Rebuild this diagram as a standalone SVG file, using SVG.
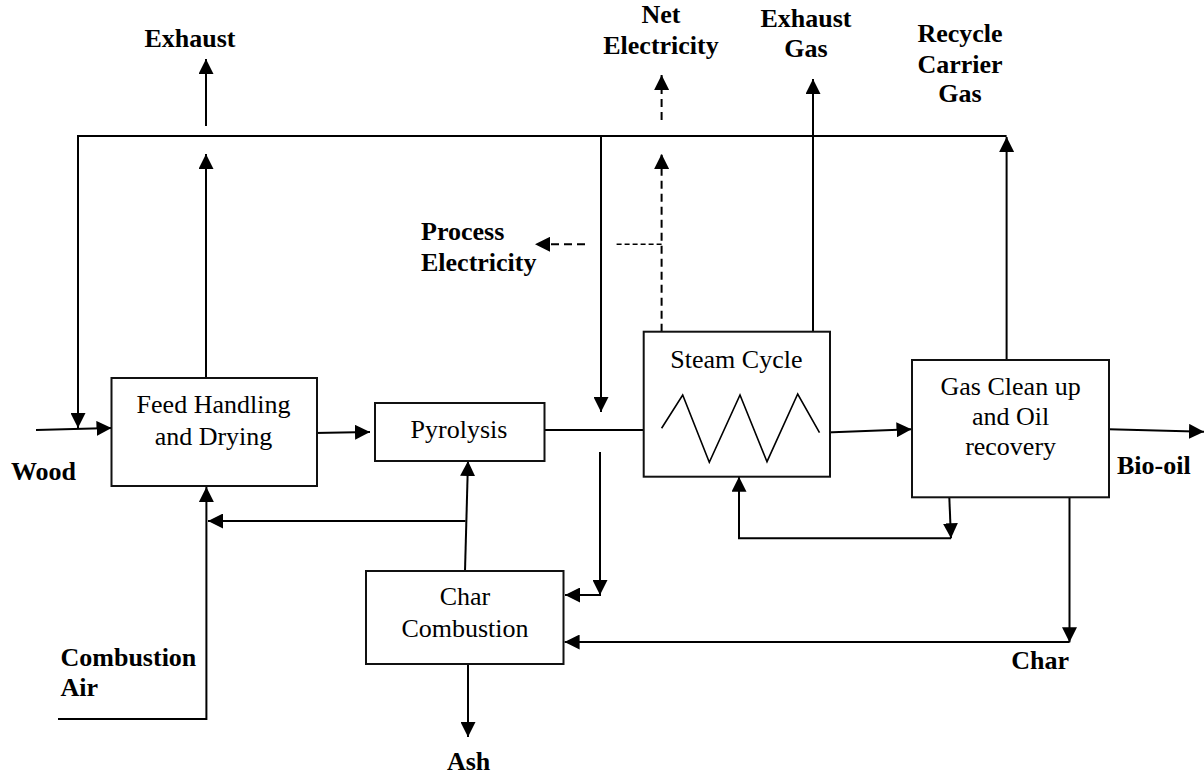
<svg xmlns="http://www.w3.org/2000/svg" width="1204" height="776" viewBox="0 0 1204 776">
<style>
.box{fill:#fff;stroke:#111;stroke-width:2}
.ln{fill:none;stroke:#000;stroke-width:2}
.dash{fill:none;stroke:#000;stroke-width:2;stroke-dasharray:8 5}
.dash2{fill:none;stroke:#000;stroke-width:1.5;stroke-dasharray:5 3}
.lbl{font-size:26px;font-weight:bold;fill:#000}
.nt{font-size:26px;fill:#000;text-anchor:middle}
.zz{fill:none;stroke:#000;stroke-width:1.6;stroke-linejoin:miter}
</style>
<defs>
<marker id="ah" viewBox="0 0 15 15" markerWidth="15" markerHeight="15" refX="15" refY="7.5" orient="auto" markerUnits="userSpaceOnUse">
<path d="M0,0 L15,7.5 L0,15 z" fill="#000"/>
</marker>
</defs>
<rect width="1204" height="776" fill="#fff"/>

<g id="connectors">
<path class="ln" d="M1006.6,360 V137" marker-end="url(#ah)"/>
<path class="ln" d="M1006.6,136 H78 V428" marker-end="url(#ah)"/>
<path class="ln" d="M36,430 L111.5,428" marker-end="url(#ah)"/>
<path class="ln" d="M206,378 V154" marker-end="url(#ah)"/>
<path class="ln" d="M206,126 V59" marker-end="url(#ah)"/>
<path class="ln" d="M601,136 V412" marker-end="url(#ah)"/>
<path class="ln" d="M314,433 L370,432" marker-end="url(#ah)"/>
<path class="ln" d="M544.5,430 H661.6" marker-end="url(#ah)"/>
<path class="ln" d="M600,452 V595" marker-end="url(#ah)"/>
<path class="ln" d="M601,595 H565" marker-end="url(#ah)"/>
<path class="ln" d="M465,571 L468,461" marker-end="url(#ah)"/>
<path class="ln" d="M465.5,521 H208" marker-end="url(#ah)"/>
<path class="ln" d="M58,719 H206.4 V487" marker-end="url(#ah)"/>
<path class="ln" d="M468,664 V737" marker-end="url(#ah)"/>
<path class="ln" d="M819.5,432.7 L911.5,429.3" marker-end="url(#ah)"/>
<path class="ln" d="M1109,429.3 L1204,431.7" marker-end="url(#ah)"/>
<path class="ln" d="M813,331.7 V79" marker-end="url(#ah)"/>
<path class="dash" d="M661.6,331.7 V154" marker-end="url(#ah)"/>
<path class="dash" d="M661.6,120 V75" marker-end="url(#ah)"/>
<path class="dash2" d="M661.6,244.3 H614"/>
<path class="dash" d="M585,244.3 H535" marker-end="url(#ah)"/>
<path class="ln" d="M949.3,497.3 L951,538.3" marker-end="url(#ah)"/>
<path class="ln" d="M951,538.3 H739 V476.7" marker-end="url(#ah)"/>
<path class="ln" d="M1069.5,497.3 V642.3" marker-end="url(#ah)"/>
<path class="ln" d="M1069.5,642 H564.6" marker-end="url(#ah)"/>
</g>

<g font-family="'Liberation Serif', 'DejaVu Serif', serif">
<g id="feed">
<rect class="box" x="111.5" y="378" width="205.5" height="108"/>
<text class="nt" x="213.5" y="413">Feed Handling</text>
<text class="nt" x="213.5" y="445">and Drying</text>
</g>

<g id="pyrolysis">
<rect class="box" x="375" y="403" width="169.5" height="58"/>
<text class="nt" x="459" y="438">Pyrolysis</text>
</g>

<g id="char-combustion">
<rect class="box" x="366" y="571" width="197.5" height="93"/>
<text class="nt" x="465" y="605">Char</text>
<text class="nt" x="465" y="637">Combustion</text>
</g>

<g id="steam-cycle">
<rect class="box" x="643.7" y="331.7" width="186.3" height="145"/>
<text class="nt" x="736.4" y="368">Steam Cycle</text>
<polyline class="zz" points="661.6,428.3 682.7,395 709.3,462.3 740,395 767,461.7 797.7,394 819.5,432.7"/>
</g>

<g id="gas-cleanup">
<rect class="box" x="912" y="360" width="197" height="137.3"/>
<text class="nt" x="1010.6" y="395">Gas Clean up</text>
<text class="nt" x="1010.6" y="425">and Oil</text>
<text class="nt" x="1010.6" y="455">recovery</text>
</g>

<g id="labels">
<text class="lbl" x="190" y="47" text-anchor="middle">Exhaust</text>
<text class="lbl" x="661" y="23" text-anchor="middle">Net</text>
<text class="lbl" x="661" y="54" text-anchor="middle">Electricity</text>
<text class="lbl" x="806" y="27" text-anchor="middle">Exhaust</text>
<text class="lbl" x="806" y="57" text-anchor="middle">Gas</text>
<text class="lbl" x="960" y="42" text-anchor="middle">Recycle</text>
<text class="lbl" x="960" y="73" text-anchor="middle">Carrier</text>
<text class="lbl" x="960" y="102" text-anchor="middle">Gas</text>
<text class="lbl" x="421" y="240">Process</text>
<text class="lbl" x="421" y="271">Electricity</text>
<text class="lbl" x="11" y="480">Wood</text>
<text class="lbl" x="60.5" y="666">Combustion</text>
<text class="lbl" x="60.5" y="696">Air</text>
<text class="lbl" x="468.6" y="770" text-anchor="middle">Ash</text>
<text class="lbl" x="1069" y="669" text-anchor="end">Char</text>
<text class="lbl" x="1117" y="474">Bio-oil</text>
</g>
</g>
</svg>
